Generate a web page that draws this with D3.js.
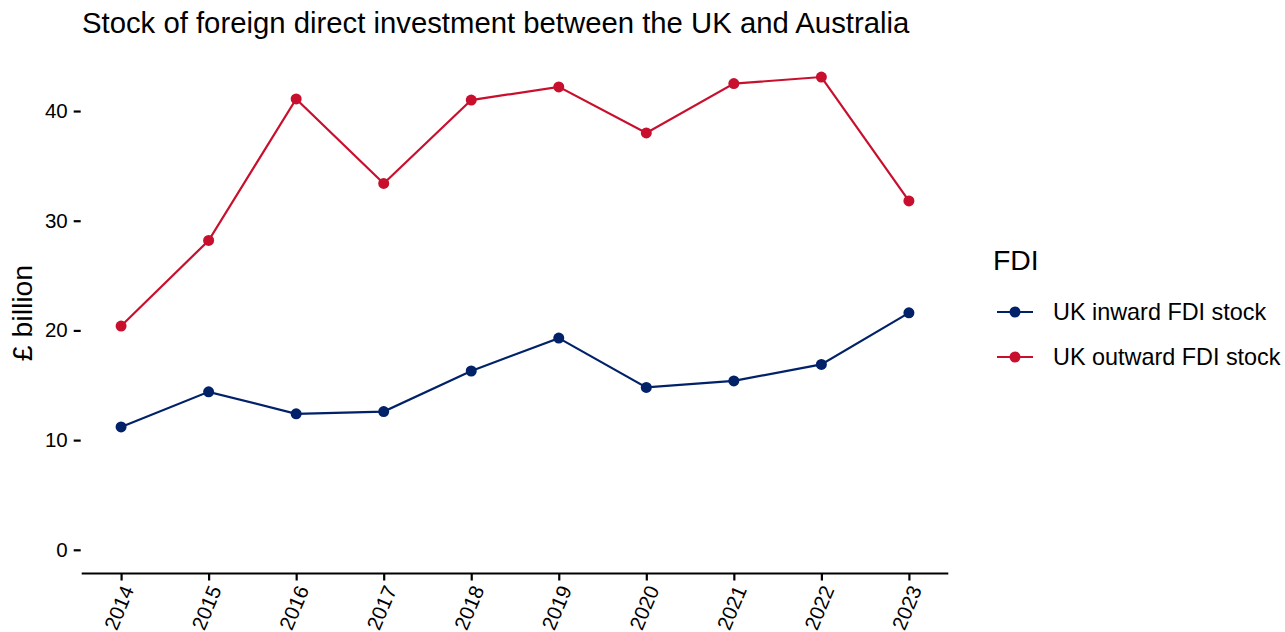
<!DOCTYPE html>
<html>
<head>
<meta charset="utf-8">
<script src="https://cdn.jsdelivr.net/npm/d3@7"></script>
<style>
body{margin:0;background:#fff;}
text{font-family:"Liberation Sans",Arial,sans-serif;}
</style>
</head>
<body>
<svg id="chart" width="1285" height="632"></svg>
<script>
const years = [2014,2015,2016,2017,2018,2019,2020,2021,2022,2023];
const inward = [11.2,14.4,12.4,12.6,16.3,19.3,14.8,15.4,16.9,21.6];
const outward = [20.4,28.2,41.1,33.4,41.0,42.2,38.0,42.5,43.1,31.8];
const seriesNames = ["UK inward FDI stock","UK outward FDI stock"];
const seriesColors = ["#012169","#C8102E"];
const yTicks = [0,10,20,30,40];
const title = "Stock of foreign direct investment between the UK and Australia";
const yLabel = "£ billion";
const legendTitle = "FDI";

const svg = d3.select("#chart");
const L = 81.7, R = 948.3, T = 53, B = 573.5;
const FF = "Liberation Sans, Arial, sans-serif";

const x = d3.scaleLinear().domain([2013.55, 2023.45]).range([L, R]);
const y = d3.scaleLinear().domain([-2.16, 45.29]).range([B, T]);

// title
svg.append("text").attr("x", 82).attr("y", 33).attr("font-size", 29.3).attr("fill", "#000").text(title);

// y axis (ticks only)
const yAxis = svg.append("g").attr("transform", `translate(${L},0)`)
  .call(d3.axisLeft(y).tickValues(yTicks).tickSize(8).tickFormat(d3.format("d")));
yAxis.select(".domain").remove();
yAxis.selectAll(".tick line").attr("stroke", "#000").attr("stroke-width", 2.2).attr("x1", -8).attr("x2", -1);
yAxis.selectAll(".tick text").attr("font-size", 20.5).attr("fill", "#000").attr("font-family", FF).attr("x", -14);

// x axis
const xAxis = svg.append("g").attr("transform", `translate(0,${B})`)
  .call(d3.axisBottom(x).tickValues(years).tickSize(7).tickFormat(d3.format("d")));
xAxis.select(".domain").attr("stroke", "#000").attr("stroke-width", 2.2).attr("d", `M${L},0H${R}`);
xAxis.selectAll(".tick line").attr("stroke", "#000").attr("stroke-width", 2.2);
xAxis.selectAll(".tick text")
  .attr("font-size", 20.5).attr("fill", "#000").attr("font-family", FF)
  .attr("text-anchor", "end").attr("dy", null).attr("y", 0)
  .attr("transform", "translate(6,13) rotate(-67)")
  .attr("dominant-baseline", "central");

// y label
svg.append("text").attr("transform", "translate(21.5,313) rotate(-90)")
  .attr("text-anchor", "middle").attr("dominant-baseline", "central")
  .attr("font-size", 28.4).attr("fill", "#000").text(yLabel);

const allSeries = [inward, outward];
const line = d3.line().x((d,i) => x(years[i])).y(d => y(d));
allSeries.forEach((vals, s) => {
  svg.append("path").attr("d", line(vals)).attr("fill", "none")
    .attr("stroke", seriesColors[s]).attr("stroke-width", 2.2);
  svg.selectAll(null).data(vals).enter().append("circle")
    .attr("cx", (d,i) => x(years[i])).attr("cy", d => y(d)).attr("r", 5.5)
    .attr("fill", seriesColors[s]);
});

// legend
svg.append("text").attr("x", 993).attr("y", 270).attr("font-size", 28.4).attr("fill", "#000").text(legendTitle);
seriesNames.forEach((nm, i) => {
  const cy = 312 + i * 45;
  svg.append("line").attr("x1", 997).attr("x2", 1033).attr("y1", cy).attr("y2", cy)
    .attr("stroke", seriesColors[i]).attr("stroke-width", 2.2);
  svg.append("circle").attr("cx", 1015).attr("cy", cy).attr("r", 5.5).attr("fill", seriesColors[i]);
  svg.append("text").attr("x", 1053).attr("y", cy).attr("dominant-baseline", "central")
    .attr("font-size", 23.4).attr("fill", "#000").text(nm);
});
</script>
</body>
</html>
